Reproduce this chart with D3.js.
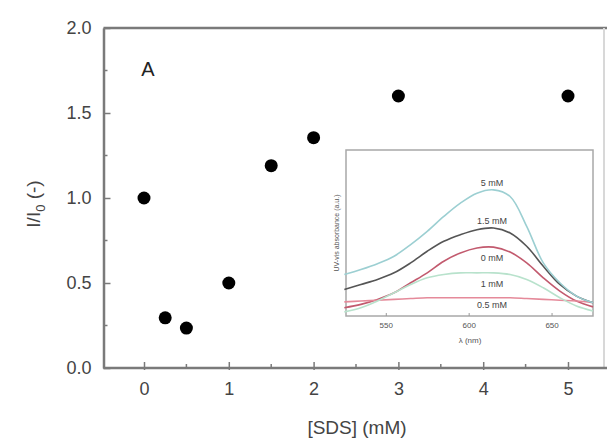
<!DOCTYPE html>
<html><head><meta charset="utf-8">
<script src="https://cdn.jsdelivr.net/npm/d3@7"></script>
<style>body{margin:0;background:#fff}svg{display:block}</style>
</head><body>
<script>
// Main data
const sdsConc = [0, 0.25, 0.5, 1, 1.5, 2, 3, 5];
const ratio   = [1.0, 0.295, 0.235, 0.5, 1.19, 1.355, 1.6, 1.6];
const xTicks = [0, 1, 2, 3, 4, 5];
const yTicks = [0.0, 0.5, 1.0, 1.5, 2.0];

// Inset data
const wavelength = [525,535,545,555,565,575,585,595,605,615,625,635,645,655,665,675];
const abs5   = [0.25,0.28,0.315,0.36,0.43,0.51,0.60,0.68,0.74,0.76,0.72,0.54,0.32,0.20,0.12,0.08];
const abs15  = [0.16,0.19,0.22,0.26,0.32,0.39,0.45,0.49,0.52,0.53,0.50,0.42,0.30,0.19,0.12,0.08];
const abs0   = [0.05,0.07,0.10,0.14,0.20,0.26,0.33,0.38,0.41,0.415,0.385,0.32,0.23,0.15,0.09,0.055];
const abs1   = [0.025,0.05,0.09,0.14,0.19,0.23,0.25,0.26,0.26,0.26,0.25,0.22,0.17,0.11,0.06,0.03];
const abs05  = [0.085,0.09,0.095,0.10,0.105,0.11,0.11,0.11,0.11,0.11,0.11,0.105,0.10,0.095,0.09,0.08];
const insetLabels = ["5 mM","1.5 mM","0 mM","1 mM","0.5 mM"];
const insetLabelY = [0.80, 0.57, 0.35, 0.19, 0.065];
const insetTicks = [550, 600, 650];

const W = 607, H = 446;
const svg = d3.select("body").append("svg").attr("width", W).attr("height", H);

const x = d3.scaleLinear().domain([0, 5]).range([144, 568]);
const y = d3.scaleLinear().domain([0, 2]).range([368, 28]);
const left = x.invert(103.5), right = x.invert(607);
const axisColor = "#7a7a7a", textColor = "#444";
const font = "Liberation Sans, Arial, sans-serif";

// frame
svg.append("line").attr("x1", x(left)).attr("x2", x(right)).attr("y1", y(2)).attr("y2", y(2))
  .attr("stroke", axisColor).attr("stroke-width", 2.5);
svg.append("line").attr("x1", 604).attr("x2", 604).attr("y1", y(2)).attr("y2", y(0))
  .attr("stroke", "#d8d8d8").attr("stroke-width", 2);

// y axis
const yAxis = d3.axisLeft(y).tickValues(yTicks).tickFormat(d3.format(".1f")).tickSizeInner(-7).tickSizeOuter(0).tickPadding(12);
const gy = svg.append("g").attr("transform", `translate(${x(left)},0)`).call(yAxis);
gy.select(".domain").attr("stroke", axisColor).attr("stroke-width", 2.5);
gy.selectAll(".tick line").attr("stroke", axisColor).attr("stroke-width", 1.5);
gy.selectAll(".tick text").attr("font-size", 18).attr("font-family", font).attr("fill", textColor);
const yMinor = d3.range(0.25, 2, 0.5);
svg.append("g").selectAll("line").data(yMinor).join("line")
  .attr("x1", x(left)).attr("x2", x(left) + 4).attr("y1", d => y(d)).attr("y2", d => y(d))
  .attr("stroke", axisColor).attr("stroke-width", 1.5);

// x axis
const xAxis = d3.axisBottom(x).tickValues(xTicks).tickFormat(d3.format("d")).tickSizeInner(-6).tickSizeOuter(0).tickPadding(14);
const gx = svg.append("g").attr("transform", `translate(0,${y(0)})`).call(xAxis);
gx.select(".domain").remove();
gx.append("line").attr("x1", x(left)).attr("x2", x(right)).attr("stroke", axisColor).attr("stroke-width", 2.5);
gx.selectAll(".tick line").attr("stroke", axisColor).attr("stroke-width", 1.5).attr("y2", -6).attr("y1", 2);
gx.selectAll(".tick text").attr("font-size", 18).attr("font-family", font).attr("fill", textColor);
const xMinor = d3.range(-0.5, 5.5, 1).filter(d => d > left);
svg.append("g").selectAll("line").data(xMinor).join("line")
  .attr("x1", d => x(d)).attr("x2", d => x(d)).attr("y1", y(0) - 4).attr("y2", y(0) + 1)
  .attr("stroke", axisColor).attr("stroke-width", 1.5);

// axis labels
svg.append("text").attr("x", 357).attr("y", 434).attr("text-anchor", "middle")
  .attr("font-size", 19).attr("font-family", font).attr("fill", textColor).text("[SDS] (mM)");
const yl = svg.append("text").attr("transform", "translate(40,204) rotate(-90)").attr("text-anchor", "middle")
  .attr("font-size", 19).attr("font-family", font).attr("fill", textColor);
yl.append("tspan").text("I/I");
yl.append("tspan").attr("font-size", 13).attr("dy", 5).text("0");
yl.append("tspan").attr("dy", -5).text(" (-)");

svg.append("text").attr("x", 148).attr("y", 76).attr("text-anchor", "middle")
  .attr("font-size", 20).attr("font-family", font).attr("fill", "#222").text("A");

// points
svg.append("g").selectAll("circle").data(sdsConc).join("circle")
  .attr("cx", d => x(d)).attr("cy", (d, i) => y(ratio[i])).attr("r", 6.5).attr("fill", "#000");

// Inset
const ix = d3.scaleLinear().domain([526, 675]).range([346, 593]);
const iy = d3.scaleLinear().domain([0, 1]).range([316, 150]);
svg.append("rect").attr("x", 346).attr("y", 150).attr("width", 593 - 346).attr("height", 316 - 150)
  .attr("fill", "#fff").attr("stroke", "#a8a8a8").attr("stroke-width", 1.5);

const series = [
  {vals: abs0,  color: "#c25a6e"},
  {vals: abs05, color: "#e58a9a"},
  {vals: abs1,  color: "#b8e2cc"},
  {vals: abs15, color: "#555555"},
  {vals: abs5,  color: "#9ccfd2"}
];
const line = d3.line().x((d, i) => ix(wavelength[i])).y(d => iy(d)).curve(d3.curveCatmullRom.alpha(0.5));
svg.append("g").selectAll("path").data(series).join("path")
  .attr("d", s => line(s.vals)).attr("fill", "none").attr("stroke", s => s.color).attr("stroke-width", 1.6);

svg.append("g").selectAll("text").data(insetLabels).join("text")
  .attr("x", 492).attr("y", (d, i) => iy(insetLabelY[i]) + 3).attr("text-anchor", "middle")
  .attr("font-size", 9).attr("font-family", font).attr("fill", "#444").text(d => d);

const ixAxis = d3.axisBottom(ix).tickValues(insetTicks).tickSizeInner(-3).tickSizeOuter(0).tickPadding(6);
const gix = svg.append("g").attr("transform", "translate(0,316)").call(ixAxis);
gix.select(".domain").remove();
gix.selectAll(".tick line").attr("stroke", "#999");
gix.selectAll(".tick text").attr("font-size", 8).attr("font-family", font).attr("fill", "#555");
svg.append("text").attr("x", 470).attr("y", 343).attr("text-anchor", "middle")
  .attr("font-size", 8).attr("font-family", font).attr("fill", "#555").text("λ (nm)");
svg.append("text").attr("transform", "translate(339,233) rotate(-90)").attr("text-anchor", "middle")
  .attr("font-size", 7).attr("font-family", font).attr("fill", "#555").text("UV-vis absorbance (a.u.)");
</script>
</body></html>
